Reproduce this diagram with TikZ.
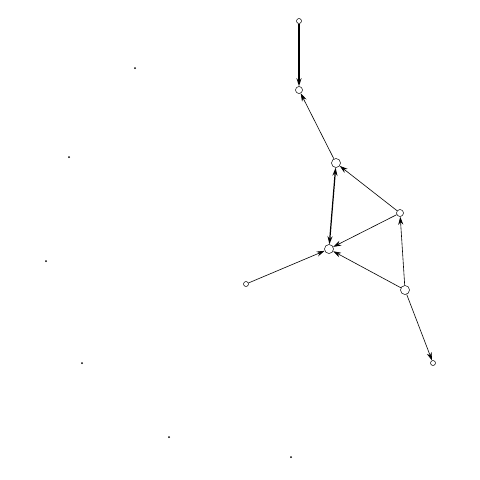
\documentclass[tikz,border=0pt]{standalone}
\usetikzlibrary{arrows.meta}
\begin{document}
\begin{tikzpicture}[x=1pt,y=-1pt,
  vtx/.style={circle,draw,fill=white,inner sep=0pt,line width=0.5pt},
  sm/.style={vtx,minimum size=5pt},
  md/.style={vtx,minimum size=7pt},
  lg/.style={vtx,minimum size=9pt},
  dotv/.style={circle,fill=black,inner sep=0pt,minimum size=2pt},
  edge/.style={line width=0.6pt,-{Stealth[length=8pt,width=5pt]}},
  bold/.style={line width=1.2pt},
  ]
\useasboundingbox (0,0) rectangle (480,480);
\node[sm] (A) at (299,21) {};
\node[md] (B) at (299,90) {};
\node[lg] (C) at (336,163) {};
\node[md] (D) at (400,213) {};
\node[lg] (E) at (329,249) {};
\node[sm] (F) at (246,284) {};
\node[lg] (G) at (405,290) {};
\node[sm] (H) at (433,363) {};
\node[dotv] (d1) at (135,68) {};
\node[dotv] (d2) at (69,157) {};
\node[dotv] (d3) at (46,261) {};
\node[dotv] (d4) at (82,363) {};
\node[dotv] (d5) at (169,437) {};
\node[dotv] (d6) at (291,457) {};
\draw[edge,bold] (A) -- (B);
\draw[edge] (C) -- (B);
\draw[edge,bold,{Stealth[length=8pt,width=5pt]}-{Stealth[length=8pt,width=5pt]}] (C) -- (E);
\draw[edge] (D) -- (C);
\draw[edge] (D) -- (E);
\draw[edge] (F) -- (E);
\draw[edge] (G) -- (E);
\draw[edge] (G) -- (D);
\draw[edge] (G) -- (H);
\end{tikzpicture}
\end{document}
